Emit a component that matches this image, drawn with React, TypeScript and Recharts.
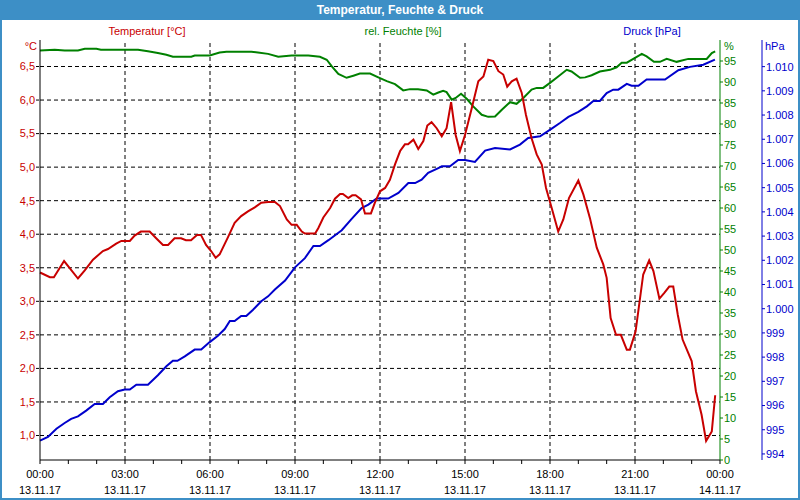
import React from 'react'
import { LineChart, Line, XAxis, YAxis, ReferenceLine } from 'recharts'

// hours since 13.11.17 00:00
const tempHours = [0, 0.35, 0.49, 0.85, 1.34, 1.58, 1.87, 2.22, 2.4, 2.69, 2.87, 3.17, 3.34, 3.56, 3.87, 4.1, 4.34, 4.52, 4.75, 4.98, 5.15, 5.33, 5.54, 5.68, 5.86, 6.04, 6.2, 6.34, 6.64, 6.87, 7.1, 7.34, 7.58, 7.81, 8.05, 8.29, 8.47, 8.71, 8.88, 9.06, 9.24, 9.35, 9.71, 9.82, 10.0, 10.24, 10.41, 10.59, 10.69, 10.88, 11.02, 11.14, 11.33, 11.47, 11.68, 11.82, 12.0, 12.18, 12.35, 12.53, 12.71, 12.88, 12.99, 13.18, 13.35, 13.53, 13.67, 13.82, 14.0, 14.18, 14.35, 14.51, 14.67, 14.82, 15.0, 15.24, 15.47, 15.65, 15.82, 16.0, 16.18, 16.35, 16.49, 16.65, 16.82, 17.0, 17.15, 17.35, 17.53, 17.71, 17.86, 18.06, 18.29, 18.47, 18.67, 19.0, 19.18, 19.41, 19.65, 19.88, 20.0, 20.14, 20.33, 20.5, 20.71, 20.82, 21.02, 21.29, 21.5, 21.65, 21.86, 22.02, 22.21, 22.35, 22.51, 22.68, 23.0, 23.15, 23.35, 23.51, 23.71, 23.83]
const tempValues = [3.43, 3.36, 3.36, 3.6, 3.34, 3.46, 3.62, 3.75, 3.78, 3.86, 3.9, 3.9, 3.98, 4.04, 4.04, 3.94, 3.84, 3.84, 3.94, 3.94, 3.91, 3.91, 3.99, 3.99, 3.84, 3.75, 3.65, 3.7, 3.96, 4.17, 4.27, 4.34, 4.4, 4.47, 4.48, 4.48, 4.42, 4.22, 4.14, 4.14, 4.04, 4.01, 4.01, 4.09, 4.25, 4.39, 4.53, 4.6, 4.6, 4.54, 4.58, 4.58, 4.52, 4.31, 4.31, 4.47, 4.64, 4.69, 4.81, 5.04, 5.24, 5.34, 5.34, 5.41, 5.27, 5.39, 5.62, 5.67, 5.58, 5.46, 5.58, 5.97, 5.48, 5.24, 5.48, 5.88, 6.28, 6.35, 6.6, 6.58, 6.43, 6.38, 6.2, 6.28, 6.32, 6.11, 5.78, 5.43, 5.19, 5.04, 4.69, 4.39, 4.04, 4.22, 4.54, 4.8, 4.59, 4.24, 3.8, 3.55, 3.35, 2.75, 2.5, 2.5, 2.28, 2.28, 2.55, 3.4, 3.61, 3.45, 3.04, 3.12, 3.22, 3.22, 2.8, 2.43, 2.11, 1.66, 1.31, 0.92, 1.06, 1.6]

const humHours = [0, 0.52, 0.87, 1.34, 1.58, 1.99, 2.15, 3.46, 3.81, 4.16, 4.46, 4.69, 5.34, 5.46, 5.99, 6.34, 6.58, 7.46, 7.69, 8.05, 8.41, 8.88, 9.47, 9.88, 10.12, 10.3, 10.53, 10.82, 11.06, 11.29, 11.65, 11.94, 12.24, 12.53, 12.82, 13.06, 13.34, 13.65, 13.88, 14.06, 14.23, 14.35, 14.53, 14.67, 14.86, 15.06, 15.29, 15.59, 15.82, 16.06, 16.3, 16.59, 16.82, 17.06, 17.35, 17.53, 17.76, 18.0, 18.29, 18.59, 18.76, 19.06, 19.24, 19.47, 19.76, 20.12, 20.35, 20.53, 20.71, 20.94, 21.24, 21.41, 21.67, 21.88, 22.12, 22.47, 22.88, 23.53, 23.71, 23.83]
const humValues = [97.5, 97.7, 97.5, 97.5, 97.9, 97.9, 97.7, 97.7, 97.3, 96.9, 96.5, 96.0, 96.0, 96.3, 96.3, 97.0, 97.2, 97.2, 97.0, 96.7, 96.0, 96.3, 96.3, 96.0, 95.3, 93.7, 91.9, 91.0, 91.5, 92.0, 92.0, 91.1, 90.2, 89.5, 88.0, 88.3, 88.3, 88.0, 87.0, 87.5, 87.9, 87.6, 85.8, 86.2, 87.2, 86.0, 84.2, 82.2, 81.7, 81.8, 83.4, 85.2, 84.8, 86.2, 88.2, 88.6, 88.6, 89.8, 91.3, 92.9, 92.5, 91.0, 91.1, 91.6, 92.5, 92.9, 93.5, 94.6, 94.6, 95.5, 96.7, 96.1, 94.8, 94.8, 95.5, 94.8, 95.5, 95.5, 96.9, 97.3]

const pressHours = [0, 0.28, 0.58, 0.87, 1.1, 1.34, 1.63, 1.93, 2.22, 2.46, 2.75, 2.99, 3.17, 3.4, 3.81, 4.16, 4.46, 4.69, 4.85, 5.11, 5.46, 5.69, 5.99, 6.28, 6.52, 6.7, 6.87, 7.1, 7.28, 7.52, 7.81, 8.05, 8.29, 8.65, 9.0, 9.35, 9.65, 9.88, 10.18, 10.65, 11.0, 11.35, 11.59, 11.88, 12.29, 12.65, 13.0, 13.24, 13.47, 13.7, 14.06, 14.18, 14.47, 14.76, 15.0, 15.35, 15.71, 16.06, 16.59, 16.94, 17.23, 17.65, 18.06, 18.35, 18.65, 19.0, 19.3, 19.53, 19.76, 20.0, 20.23, 20.41, 20.71, 20.88, 21.12, 21.41, 22.06, 22.53, 22.94, 23.41, 23.82]
const pressValues = [994.55, 994.7, 995.04, 995.28, 995.45, 995.55, 995.79, 996.06, 996.06, 996.34, 996.59, 996.66, 996.66, 996.86, 996.86, 997.25, 997.62, 997.85, 997.85, 998.03, 998.31, 998.31, 998.62, 998.88, 999.16, 999.49, 999.49, 999.7, 999.7, 999.96, 1000.31, 1000.51, 1000.79, 1001.16, 1001.71, 1002.09, 1002.59, 1002.59, 1002.83, 1003.24, 1003.71, 1004.16, 1004.3, 1004.55, 1004.55, 1004.78, 1005.19, 1005.19, 1005.33, 1005.61, 1005.81, 1005.88, 1005.88, 1006.14, 1006.14, 1006.06, 1006.53, 1006.64, 1006.58, 1006.78, 1007.05, 1007.12, 1007.44, 1007.67, 1007.92, 1008.13, 1008.36, 1008.58, 1008.58, 1008.91, 1009.05, 1009.05, 1009.29, 1009.21, 1009.21, 1009.47, 1009.47, 1009.85, 1009.99, 1010.08, 1010.29]

const hourTicks = [0, 1, 2, 3, 4, 5, 6, 7, 8, 9, 10, 11, 12, 13, 14, 15, 16, 17, 18, 19, 20, 21, 22, 23, 24]
const gridHours = [3, 6, 9, 12, 15, 18, 21]
const timeLabels = ['00:00', '03:00', '06:00', '09:00', '12:00', '15:00', '18:00', '21:00', '00:00']
const dateLabels = ['13.11.17', '13.11.17', '13.11.17', '13.11.17', '13.11.17', '13.11.17', '13.11.17', '13.11.17', '14.11.17']
const tempTicks = [1.0, 1.5, 2.0, 2.5, 3.0, 3.5, 4.0, 4.5, 5.0, 5.5, 6.0, 6.5]
const humTicks = [0, 5, 10, 15, 20, 25, 30, 35, 40, 45, 50, 55, 60, 65, 70, 75, 80, 85, 90, 95]
const pressTicks = [994, 995, 996, 997, 998, 999, 1000, 1001, 1002, 1003, 1004, 1005, 1006, 1007, 1008, 1009, 1010]

const RED = '#c80000'
const GREEN = '#008000'
const BLUE = '#0000cc'
const FRAME = '#3d8fc6'
const FONT = '"Liberation Sans", Arial, sans-serif'

const zip = (hs: number[], vs: number[]) => hs.map((h, i) => ({ h, v: vs[i] }))
const tempData = zip(tempHours, tempValues)
const humData = zip(humHours, humValues)
const pressData = zip(pressHours, pressValues)

const fmtPress = (v: number) => (v >= 1000 ? '1.' + String(v - 1000).padStart(3, '0') : String(v))

function TimeTick(props: any) {
  const { x, y, payload } = props
  const v = payload.value
  if (v % 3 !== 0) return null
  const i = v / 3
  return (
    <text x={x} y={y} textAnchor="middle" fill="#000" fontSize={11} fontFamily={FONT}>
      <tspan x={x} dy={12}>{timeLabels[i]}</tspan>
      <tspan x={x} dy={16}>{dateLabels[i]}</tspan>
    </text>
  )
}

const label = (extra: React.CSSProperties): React.CSSProperties => ({
  position: 'absolute',
  fontFamily: FONT,
  fontSize: 11,
  lineHeight: '13px',
  whiteSpace: 'nowrap',
  ...extra,
})

export default function App() {
  return (
    <div style={{ position: 'absolute', left: 0, top: 0, width: 800, height: 500, background: '#fff', overflow: 'hidden' }}>
      <div style={{ position: 'absolute', left: 0, top: 0 }}>
        <LineChart width={800} height={500} margin={{ top: 40, right: 0, bottom: 0, left: 0 }}>
          <XAxis
            xAxisId="main"
            dataKey="h"
            type="number"
            domain={[0, 24]}
            ticks={hourTicks}
            interval={0}
            height={40}
            stroke="#000"
            tickSize={4}
            tick={<TimeTick />}
            allowDuplicatedCategory={false}
          />
          <XAxis xAxisId="top" orientation="top" type="number" dataKey="h" domain={[0, 24]} height={0} tick={false} tickLine={false} stroke="#000" />
          <YAxis
            yAxisId="temp"
            type="number"
            domain={[0.635, 6.895]}
            ticks={tempTicks}
            interval={0}
            width={40}
            stroke="#000"
            tickSize={4}
            tickMargin={1}
            tickLine={{ stroke: '#000', strokeDasharray: '3 2' }}
            tick={{ fill: RED, fontSize: 11, fontFamily: FONT }}
            tickFormatter={(v: number) => v.toFixed(1).replace('.', ',')}
          />
          <YAxis
            yAxisId="hum"
            orientation="right"
            type="number"
            domain={[0, 100]}
            ticks={humTicks}
            interval={0}
            width={42}
            stroke={GREEN}
            tickSize={3}
            tickMargin={1}
            tick={{ fill: GREEN, fontSize: 11, fontFamily: FONT }}
          />
          <YAxis
            yAxisId="press"
            orientation="right"
            type="number"
            domain={[993.75, 1011.1]}
            ticks={pressTicks}
            interval={0}
            width={38}
            stroke={BLUE}
            tickSize={3}
            tickMargin={1}
            tick={{ fill: BLUE, fontSize: 11, fontFamily: FONT }}
            tickFormatter={fmtPress}
          />
          {tempTicks.map((t) => (
            <ReferenceLine key={'y' + t} xAxisId="main" yAxisId="temp" y={t} stroke="#000" strokeDasharray="4 3" />
          ))}
          {gridHours.map((h) => (
            <ReferenceLine key={'x' + h} xAxisId="main" yAxisId="temp" x={h} stroke="#000" strokeDasharray="4 3" />
          ))}
          <Line xAxisId="main" yAxisId="hum" data={humData} dataKey="v" type="linear" stroke={GREEN} strokeWidth={2} dot={false} isAnimationActive={false} />
          <Line xAxisId="main" yAxisId="press" data={pressData} dataKey="v" type="linear" stroke={BLUE} strokeWidth={2} dot={false} isAnimationActive={false} />
          <Line xAxisId="main" yAxisId="temp" data={tempData} dataKey="v" type="linear" stroke={RED} strokeWidth={2} dot={false} isAnimationActive={false} />
        </LineChart>
      </div>

      <div style={label({ left: 0, width: 294, top: 25, textAlign: 'center', color: RED })}>Temperatur [°C]</div>
      <div style={label({ left: 303, width: 200, top: 25, textAlign: 'center', color: GREEN })}>rel. Feuchte [%]</div>
      <div style={label({ left: 552, width: 200, top: 25, textAlign: 'center', color: BLUE })}>Druck [hPa]</div>
      <div style={label({ right: 763, top: 40, color: RED })}>°C</div>
      <div style={label({ left: 724, top: 40, color: GREEN })}>%</div>
      <div style={label({ left: 765, top: 40, color: BLUE })}>hPa</div>

      <div
        style={{
          position: 'absolute',
          left: 0,
          top: 0,
          width: 800,
          height: 20,
          background: FRAME,
          color: '#fff',
          fontFamily: FONT,
          fontWeight: 'bold',
          fontSize: 12,
          lineHeight: '20px',
          textAlign: 'center',
        }}
      >
        Temperatur, Feuchte &amp; Druck
      </div>
      <div
        style={{
          position: 'absolute',
          left: 0,
          top: 0,
          width: 800,
          height: 500,
          boxSizing: 'border-box',
          borderLeft: `2px solid ${FRAME}`,
          borderRight: `2px solid ${FRAME}`,
          borderBottom: `2px solid ${FRAME}`,
          pointerEvents: 'none',
        }}
      />
    </div>
  )
}
